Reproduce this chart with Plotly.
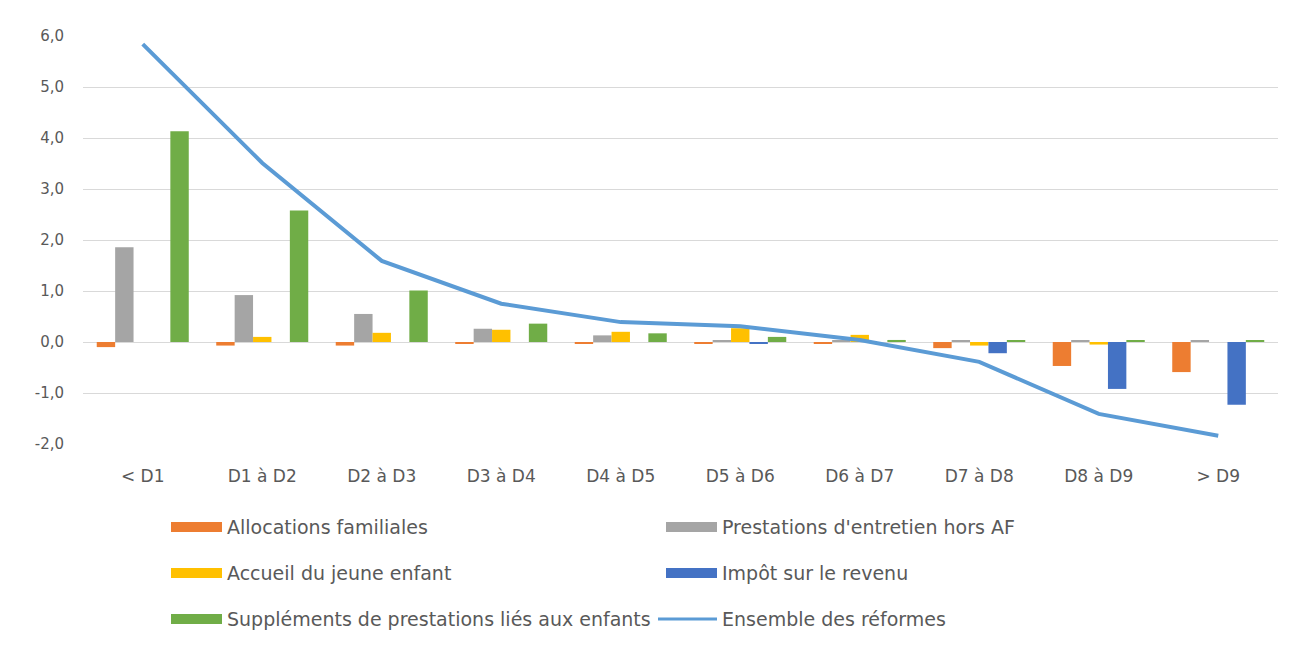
import plotly.graph_objects as go

# deciles of standard of living
categories = ["< D1", "D1 à D2", "D2 à D3", "D3 à D4", "D4 à D5",
              "D5 à D6", "D6 à D7", "D7 à D8", "D8 à D9", "> D9"]

allocations = [-0.10, -0.07, -0.07, -0.03, -0.02, -0.02, -0.02, -0.12, -0.47, -0.59]
prestations = [1.86, 0.92, 0.55, 0.26, 0.13, 0.02, 0.02, 0.02, 0.02, 0.02]
accueil     = [0.00, 0.10, 0.18, 0.24, 0.20, 0.27, 0.14, -0.07, -0.05, 0.00]
impot       = [0.00, 0.00, 0.00, 0.00, 0.00, -0.03, 0.00, -0.22, -0.92, -1.23]
supplements = [4.13, 2.58, 1.01, 0.36, 0.17, 0.10, 0.04, 0.02, 0.02, 0.02]
ensemble    = [5.84, 3.51, 1.59, 0.75, 0.39, 0.31, 0.04, -0.39, -1.41, -1.84]

y_ticks  = [-2, -1, 0, 1, 2, 3, 4, 5, 6]
y_labels = ["-2,0", "-1,0", "0,0", "1,0", "2,0", "3,0", "4,0", "5,0", "6,0"]

bar_names = ["Allocations familiales", "Prestations d'entretien hors AF",
             "Accueil du jeune enfant", "Impôt sur le revenu",
             "Suppléments de prestations liés aux enfants"]
line_name = "Ensemble des réformes"

bar_colors = ["#ED7D31", "#A5A5A5", "#FFC000", "#4472C4", "#70AD47"]
line_color = "#5B9BD5"

# the page body adds an 8px margin, so the figure sits at (8, 8) in the window
OFF = 8
W, H = 1309 - OFF, 645 - OFF
L, R, T, B = 83 - OFF, 31, 36 - OFF, 201
FONT = "DejaVu Sans"
GREY = "#595959"


def px(x):
    # window x -> paper fraction
    return (x - OFF - L) / (W - L - R)


def py(y):
    # window y -> paper fraction
    return (H - B - (y - OFF)) / (H - T - B)


fig = go.Figure()

for name, vals, col in zip(bar_names, [allocations, prestations, accueil, impot, supplements], bar_colors):
    fig.add_trace(go.Bar(x=categories, y=vals, name=name, marker_color=col, marker_line_width=0))

fig.add_trace(go.Scatter(x=categories, y=ensemble, name=line_name, mode="lines",
                         line=dict(color=line_color, width=4)))

# legend drawn by hand (two columns, three rows, Excel style)
legend_items = [(n, c, "bar") for n, c in zip(bar_names, bar_colors)] + [(line_name, line_color, "line")]
shapes = []
annotations = []
for i, (name, col, kind) in enumerate(legend_items):
    cx = 171 if i % 2 == 0 else 666
    cy = [527, 573, 619][i // 2]
    if kind == "bar":
        shapes.append(dict(type="rect", xref="paper", yref="paper",
                           x0=px(cx), x1=px(cx + 51), y0=py(cy - 5), y1=py(cy + 5),
                           fillcolor=col, line_width=0))
    else:
        shapes.append(dict(type="line", xref="paper", yref="paper",
                           x0=px(cx - 8), x1=px(cx + 51), y0=py(cy), y1=py(cy),
                           line=dict(color=col, width=3)))
    annotations.append(dict(text=name, xref="paper", yref="paper", x=px(cx + 54), y=py(cy),
                            xanchor="left", yanchor="middle", showarrow=False,
                            font=dict(family=FONT, size=19, color=GREY)))

# chart frame (right edge only falls inside the figure)
shapes.append(dict(type="line", xref="paper", yref="paper",
                   x0=px(1305), x1=px(1305), y0=py(10), y1=py(660),
                   line=dict(color="#D9D9D9", width=1)))

fig.update_layout(
    width=W, height=H,
    margin=dict(l=L, r=R, t=T, b=B),
    paper_bgcolor="white", plot_bgcolor="white",
    barmode="group", bargap=0.23, bargroupgap=0,
    showlegend=False,
    font=dict(family=FONT, size=16, color=GREY),
    shapes=shapes,
    annotations=annotations,
)

fig.update_xaxes(showgrid=False, showline=False, ticks="", ticklabelstandoff=20,
                 tickfont=dict(family=FONT, size=17, color=GREY))
fig.update_yaxes(range=[-2, 6], tickvals=y_ticks, ticktext=y_labels, showgrid=True,
                 gridcolor="#D9D9D9", gridwidth=1, zeroline=True, zerolinecolor="#D9D9D9",
                 zerolinewidth=1, showline=False, ticks="", ticklabelstandoff=18,
                 tickfont=dict(family=FONT, size=15, color=GREY))

fig.write_html("out.html")
